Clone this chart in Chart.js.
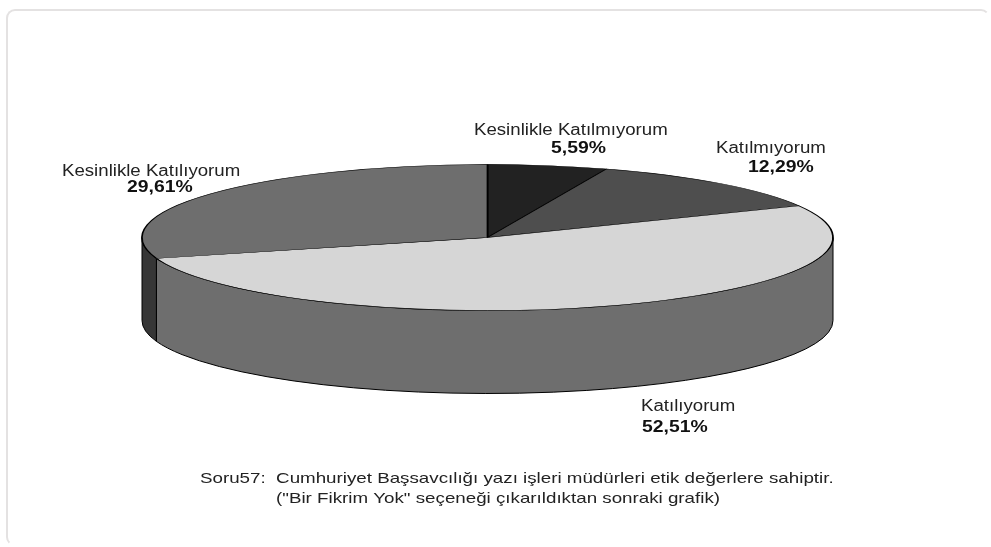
<!DOCTYPE html>
<html>
<head>
<meta charset="utf-8">
<style>
    html, body { margin: 0; padding: 0; background: #fff; }
    #wrap { position: relative; width: 991px; height: 547px; overflow: hidden; }
    #card { position: absolute; left: 6px; top: 9px; width: 984px; height: 537px; box-sizing: border-box;
            border: 2px solid #e4e2e2; border-right-color: transparent; border-bottom-color: transparent;
            border-radius: 9px; }
    canvas { position: absolute; left: 0; top: 0; }
</style>
<script src="https://cdn.jsdelivr.net/npm/chart.js@4/dist/chart.umd.min.js"></script>
</head>
<body>
<div id="wrap">
    <div id="card"></div>
    <canvas id="chart" width="991" height="547"></canvas>
</div>
<script>
const categories = ['Kesinlikle Katılmıyorum', 'Katılmıyorum', 'Katılıyorum', 'Kesinlikle Katılıyorum'];
const shares = [5.59, 12.29, 52.51, 29.61];
const shareLabels = ['5,59%', '12,29%', '52,51%', '29,61%'];
const topColors = ['#222222', '#4e4e4e', '#d6d6d6', '#6e6e6e'];
const sideColors = ['#222222', '#4e4e4e', '#6e6e6e', '#363636'];
const captionLines = [
    'Soru57:  Cumhuriyet Başsavcılığı yazı işleri müdürleri etik değerlere sahiptir.',
    '("Bir Fikrim Yok" seçeneği çıkarıldıktan sonraki grafik)'
];

// where the texts sit on the page: [name x, name y, value x, value y]
const labelSpots = [
    [474, 130.5, 551, 149],
    [716, 148.5, 748, 168],
    [641, 407, 642, 427.5],
    [62, 171.5, 127, 188]
];
const captionSpots = [[200, 479], [276, 498.5]];

// the reference is a stretched scan, so the text is wider than the font
const NAME_STRETCH = 1.165;
const VALUE_STRETCH = 1.21;
const CAPTION_STRETCH = 1.25;

// the pie is squashed into an ellipse, radius is what chart.js gets
const PIE_RADIUS = 200;
const PIE_CX = 487.5;
const PIE_CY = 237.5;
const RX = 345.5;
const RY = 73;
const DEPTH = 83;

function stretchedText(ctx, text, x, y, font, stretch) {
    ctx.save();
    ctx.translate(x, y);
    ctx.scale(stretch, 1);
    ctx.font = font;
    ctx.fillText(text, 0, 0);
    ctx.restore();
}

const tiltedPie = {
    id: 'tiltedPie',
    beforeDatasetDraw(chart) {
        const ctx = chart.ctx;
        const arcs = chart.getDatasetMeta(0).data;
        const sx = RX / arcs[0].outerRadius;
        const sy = RY / arcs[0].outerRadius;

        // side wall first, only the part facing the viewer
        arcs.forEach((arc, i) => {
            const a0 = Math.max(arc.startAngle, 0);
            const a1 = Math.min(arc.endAngle, Math.PI);
            if (a1 <= a0) return;
            ctx.beginPath();
            ctx.ellipse(PIE_CX, PIE_CY, RX, RY, 0, a0, a1);
            ctx.ellipse(PIE_CX, PIE_CY + DEPTH, RX, RY, 0, a1, a0, true);
            ctx.closePath();
            ctx.fillStyle = sideColors[i];
            ctx.strokeStyle = '#000';
            ctx.lineWidth = 1;
            ctx.fill();
            ctx.stroke();
        });

        ctx.save();
        ctx.translate(PIE_CX, PIE_CY);
        ctx.scale(sx, sy);
        ctx.translate(-arcs[0].x, -arcs[0].y);
    },
    afterDatasetDraw(chart) {
        chart.ctx.restore();
    },
    afterDraw(chart) {
        const ctx = chart.ctx;
        ctx.save();
        ctx.textBaseline = 'middle';
        ctx.textAlign = 'left';
        categories.forEach((name, i) => {
            const spot = labelSpots[i];
            ctx.fillStyle = '#222';
            stretchedText(ctx, name, spot[0], spot[1], '16px "Liberation Sans"', NAME_STRETCH);
            ctx.fillStyle = '#111';
            stretchedText(ctx, shareLabels[i], spot[2], spot[3], 'bold 16px "Liberation Sans"', VALUE_STRETCH);
        });
        ctx.fillStyle = '#222';
        captionLines.forEach((line, i) => {
            stretchedText(ctx, line, captionSpots[i][0], captionSpots[i][1], '15px "Liberation Sans"', CAPTION_STRETCH);
        });
        ctx.restore();
    }
};

new Chart(document.getElementById('chart'), {
    type: 'pie',
    data: {
        labels: categories,
        datasets: [{
            data: shares,
            backgroundColor: topColors,
            borderColor: '#000',
            borderWidth: 1,
            borderAlign: 'center',
            radius: PIE_RADIUS
        }]
    },
    options: {
        responsive: false,
        animation: false,
        events: [],
        plugins: { legend: { display: false }, tooltip: { enabled: false } }
    },
    plugins: [tiltedPie]
});
</script>
</body>
</html>
